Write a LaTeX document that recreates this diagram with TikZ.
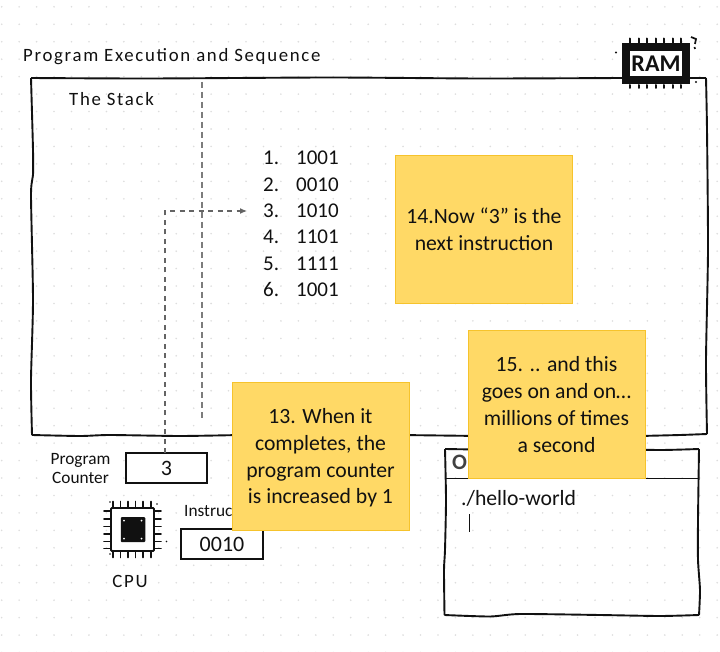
\documentclass[tikz,border=0pt]{standalone}
\usepackage{fontspec}
\setmainfont{Carlito}
\newfontfamily\handfont[LetterSpace=9]{Carlito}
\usetikzlibrary{arrows.meta}
\definecolor{stickyfill}{HTML}{FFD966}
\definecolor{stickyedge}{HTML}{F6C32C}
\definecolor{griddot}{HTML}{DDDDDD}
\definecolor{ink}{HTML}{111111}
\tikzset{
  sketch/.style={draw=ink,line width=1.9pt,line join=round},
  sticky/.style={draw=stickyedge,fill=stickyfill,line width=0.8pt,minimum width=177pt,minimum height=148pt,align=center,font=\fontsize{21.7}{26.8}\selectfont,text=ink,inner sep=0pt},
  regbox/.style={draw=ink,fill=white,line width=1.6pt,font=\fontsize{22}{24}\selectfont,text=ink,inner sep=0pt},
  label/.style={font=\fontsize{17.3}{19.5}\selectfont,text=ink,align=center,inner sep=0pt},
  hand/.style={font=\handfont\fontsize{18.8}{22}\selectfont,text=ink,inner sep=0pt},
  item/.style={font=\fontsize{21}{24}\selectfont,text=ink,inner sep=0pt,anchor=west},
  guide/.style={draw=ink!65,line width=1.1pt,dash pattern=on 5pt off 4.5pt},
  pin/.style={draw=ink,line width=1.7pt,line cap=round},
  speck/.style={fill=ink,draw=none}
}
\begin{document}
\begin{tikzpicture}[x=1pt,y=-1pt]
\useasboundingbox (0,0) rectangle (720,652);
\fill[white] (0,0) rectangle (720,652);
% dot grid
\foreach \i in {0,...,41}{\foreach \j in {0,...,37}{
  \fill[griddot] ({1.7+17.45*\i},{6.85+17.45*\j}) circle (0.9pt);
}}
% RAM frame
\draw[sketch] plot[smooth,tension=0.4] coordinates {(31,78) (150,78.5) (330,77.5) (480,78.5) (622,78)};
\draw[sketch] (690,78) -- (706,78);
\draw[sketch] plot[smooth,tension=0.4] coordinates {(706,78) (707,130) (708,250) (706,360) (707,434)};
\draw[sketch] plot[smooth,tension=0.4] coordinates {(31,78) (33,150) (33,175) (31,195) (33,300) (31,380) (32,435)};
\draw[sketch] plot[smooth,tension=0.4] coordinates {(32,435) (80,436) (110,435) (180,436) (240,435)};
\draw[sketch] plot[smooth,tension=0.4] coordinates {(640,436) (680,435) (707,434)};
\draw[sketch] (400,435) -- (480,436);
% texts of frame
\node[hand,anchor=west] (title) at (23,56.5) {Program Execution and Sequence};
\node[hand,anchor=west] (stack) at (69,99) {The Stack};
% RAM icon
\node[draw=ink,fill=white,line width=8pt,minimum width=60.5pt,minimum height=33pt,inner sep=0pt,font=\bfseries\fontsize{24}{26}\selectfont,text=ink] (ram) at (656,64) {RAM};
\foreach \x in {630,638.5,647,655.5,664,672.5,681}{
  \draw[pin,line width=2pt] (\x,38.5) -- (\x,43);
  \draw[pin,line width=2pt] (\x,85) -- (\x,88);
}
\draw[line width=1.7pt,draw=ink] (691,37) -- (696,39) -- (695,44) (694.5,47) -- (695,49);
\fill[speck] (616,52.5) circle (1.1pt) (696,82) circle (1.1pt);
% stack divider
\coordinate (divtop) at (202,82);
\coordinate (divbot) at (202,421);
\draw[guide,draw=ink!55,dash pattern=on 6pt off 4pt] (divtop) -- (divbot);
% list
\node[item] (n1) at (263,158) {1.};
\node[item] (n2) at (263,184.5) {2.};
\node[item] (n3) at (263,211) {3.};
\node[item] (n4) at (263,237) {4.};
\node[item] (n5) at (263,263.5) {5.};
\node[item] (n6) at (263,289.5) {6.};
\node[item] (v1) at (296,158) {1001};
\node[item] (v2) at (296,184.5) {0010};
\node[item] (v3) at (296,211) {1010};
\node[item] (v4) at (296,237) {1101};
\node[item] (v5) at (296,263.5) {1111};
\node[item] (v6) at (296,289.5) {1001};
% registers
\node[label] (pclabel) at (80.5,468.5) {Program\\Counter};
\node[regbox,minimum width=81pt,minimum height=30pt] (pc) at (166.5,468) {3};
\node[label,anchor=west] (irlabel) at (184,511) {Instruc};
\node[regbox,minimum width=82pt,minimum height=30pt] (ir) at (222,544) {0010};
% connector
\coordinate (pcup) at (165,453);
\draw[guide,-{Latex[length=7pt,width=6pt]}] (pcup) |- ([xshift=-16pt]n3.west);
% CPU
\draw[draw=ink,fill=white,line width=1.8pt,rounded corners=1pt] (111,508) rectangle (154,551);
\node[fill=ink,minimum width=24.5pt,minimum height=25pt,inner sep=0pt,rounded corners=1pt] (core) at (133,529.5) {};
\fill[white] (124,520.5) circle (1pt) (141.5,520.5) circle (1pt) (124,538.5) circle (1pt) (141.5,538.5) circle (1pt);
\foreach \x in {113,120.5,128,135.5,143,151}{
  \draw[pin] (\x,501.5) -- (\x,508);
  \draw[pin] (\x,551) -- (\x,557.5);
}
\foreach \y in {511,519,526.5,534,541.5,548.5}{
  \draw[pin] (104,\y) -- (111,\y);
  \draw[pin] (154,\y) -- (161,\y);
}
\fill[speck] (110,502) circle (0.9pt) (157,504) circle (0.9pt) (110,554) circle (0.9pt) (166.5,541.5) circle (0.9pt);
\node[hand] (cpu) at (130,581) {CPU};
% terminal
\draw[sketch] plot[smooth,tension=0.4] coordinates {(445,449) (520,450) (600,449) (660,450) (699,449)};
\draw[sketch] plot[smooth,tension=0.4] coordinates {(699,449) (698,520) (698,560) (700,590) (699,615)};
\draw[sketch] plot[smooth,tension=0.4] coordinates {(445,449) (446,500) (445,550) (444,570) (444.5,615)};
\draw[sketch] plot[smooth,tension=0.4] coordinates {(444.5,615) (490,616.5) (520,614) (600,615) (660,616) (699,615)};
\draw[sketch,line width=1.4pt] (445,478.5) -- (699,478.5);
\node[anchor=west,inner sep=0pt,font=\bfseries\fontsize{22}{24}\selectfont,text=ink!80] (ttitle) at (452,462) {Ou};
\node[anchor=west,inner sep=0pt,font=\fontsize{21.7}{24}\selectfont,text=ink] (cmd) at (461,498.5) {./hello-world};
\draw[draw=ink,line width=1.3pt] (469.5,514) -- (469.5,532);
% stickies
\node[sticky] (s14) at (484,229.5) {14.Now “3” is the\\next instruction};
\node[sticky] (s15) at (556.5,404.5) {15. .. and this\\goes on and on…\\millions of times\\a second};
\node[sticky] (s13) at (320.5,456) {\rule{0pt}{19pt}13. When it\\completes, the\\program counter\\is increased by 1};
\end{tikzpicture}
\end{document}
